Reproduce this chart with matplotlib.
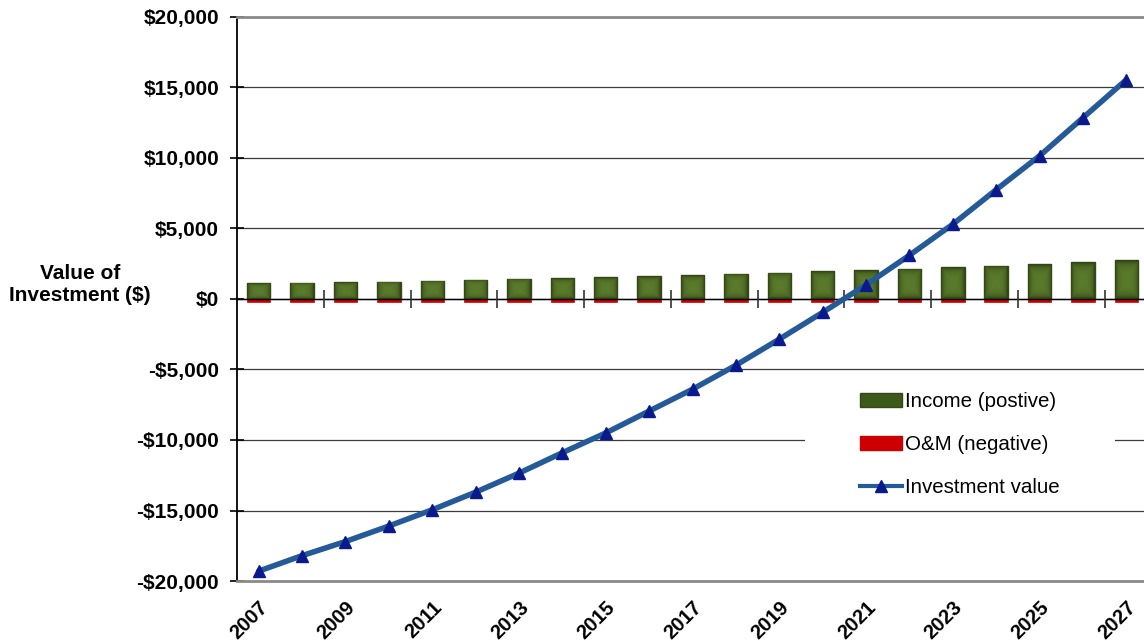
import numpy as np
import matplotlib.pyplot as plt
from matplotlib.colors import LinearSegmentedColormap
from matplotlib.patches import Patch, Rectangle
from matplotlib.lines import Line2D

plt.rcParams['font.family'] = ['Liberation Sans', 'DejaVu Sans']

years = list(range(2007, 2028))
income = [1100, 1150, 1180, 1230, 1290, 1350, 1420, 1480, 1550, 1620, 1700,
          1780, 1860, 1950, 2040, 2140, 2250, 2360, 2480, 2600, 2750]
om = [-200] * 21
investment = [-19300, -18200, -17200, -16100, -14950, -13700, -12350, -10900,
              -9500, -7950, -6400, -4700, -2850, -950, 1000, 3100, 5300, 7750,
              10150, 12850, 15550]
ytick_vals = list(range(-20000, 20001, 5000))

x = np.arange(len(years))
bar_w = 0.54

fig = plt.figure(figsize=(11.44, 6.41), dpi=100)
ax = fig.add_axes([0.2072, 0.0936, 0.7963, 0.8799])

# olive bars with a bevelled shading
green_cmap = LinearSegmentedColormap.from_list('olive', ['#2f4212', '#4a6622', '#5a7a2c'])
gx = np.linspace(-1, 1, 60)
gy = np.linspace(-1, 1, 60)
GX, GY = np.meshgrid(gx, gy)
shade = 1 - np.maximum(np.abs(GX), np.abs(GY)) ** 3

bars = ax.bar(x, income, width=bar_w, color='#4a6622', edgecolor='#34481a', lw=1, zorder=2)
for b in bars:
    x0, y0 = b.get_x(), b.get_y()
    w, h = b.get_width(), b.get_height()
    im = ax.imshow(shade, cmap=green_cmap, extent=[x0, x0 + w, y0, y0 + h],
                   aspect='auto', origin='lower', zorder=2.1, interpolation='bilinear')
    im.set_clip_path(b)

ax.bar(x, om, width=bar_w, color='#cc0000', edgecolor='#cc0000', lw=0.5, zorder=3)

ax.plot(x, investment, color='#245a98', lw=4, zorder=4, solid_capstyle='round')
ax.plot(x, investment, ls='none', marker='^', ms=9, color='#0a1a8c', zorder=5)

ax.set_xlim(-0.5, len(years) - 0.5)
ax.set_ylim(-20000, 20000)

ax.set_yticks(ytick_vals)
ax.set_yticklabels([('-$' if v < 0 else '$') + f'{abs(v):,}' for v in ytick_vals],
                   fontsize=15, fontweight='bold')
ax.tick_params(axis='y', direction='inout', length=10, width=1.2, pad=8)

ax.set_xticks(x[::2])
ax.set_xticklabels([str(y) for y in years[::2]], rotation=45, ha='right',
                   rotation_mode='anchor', fontsize=14.5, fontweight='bold')
ax.tick_params(axis='x', length=0, pad=12)

ax.grid(axis='y', color='#3a3a3a', lw=0.9, zorder=0)
ax.set_axisbelow(True)
ax.spines['right'].set_visible(False)
ax.spines['top'].set_color('#8a8a8a')
ax.spines['top'].set_linewidth(2)
ax.spines['bottom'].set_color('#8a8a8a')
ax.spines['bottom'].set_linewidth(2)
ax.spines['left'].set_color('black')
ax.spines['left'].set_linewidth(1.3)

# category axis at zero with tick marks every two years
ax.axhline(0, color='black', lw=1, zorder=3.5)
ax.plot(x[1:-1:2] + 0.5, [0] * len(x[1:-1:2]), ls='none', marker='|', ms=13,
        mew=1.2, color='#333333', zorder=3.5)

fig.text(0.070, 0.556, 'Value of\nInvestment ($)', ha='center', va='center',
         fontsize=15, fontweight='bold', linespacing=1.15)

# white legend area hiding the gridline behind it
ax.add_patch(Rectangle((0.6235, 0.1436), 0.3403, 0.2124, transform=ax.transAxes,
                       facecolor='white', edgecolor='none', zorder=1))

handles = [Patch(facecolor='#3e5a1a', edgecolor='#34481a'),
           Patch(facecolor='#cc0000', edgecolor='#cc0000'),
           Line2D([], [], color='#245a98', lw=3, marker='^', ms=8,
                  markerfacecolor='#0a1a8c', markeredgecolor='#0a1a8c')]
leg = ax.legend(handles, ['Income (postive)', 'O&M (negative)', 'Investment value'],
                loc='upper left', bbox_to_anchor=(0.6839, 0.3350), frameon=False,
                fontsize=14.8, handlelength=2.05, handleheight=0.7, handletextpad=0.15,
                labelspacing=1.16, borderpad=0, borderaxespad=0)
leg.set_zorder(6)

fig.savefig('out.png', dpi=100)
